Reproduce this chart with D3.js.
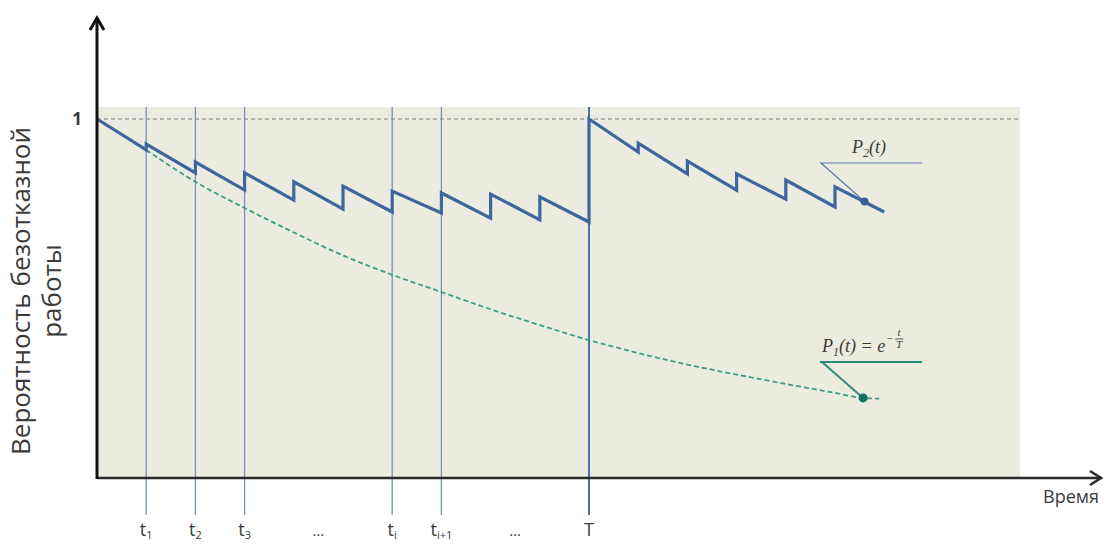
<!DOCTYPE html>
<html><head><meta charset="utf-8">
<script src="https://cdn.jsdelivr.net/npm/d3@7"></script>
<style>body{margin:0;background:#fff}svg{display:block}</style>
</head><body>
<svg id="c" width="1105" height="545"></svg>
<script>
// ---- data ----
const tickTimes = [1, 2, 3, 6, 7, 10];
const tickMain = ["t", "t", "t", "t", "t", "T"];
const tickSub = ["1", "2", "3", "i", "i+1", ""];
const ellipsisTimes = [4.5, 8.5];
const sawT = [0, 1, 1, 2, 2, 3, 3, 4, 4, 5, 5, 6, 6, 7, 7, 8, 8, 9, 9, 10, 10, 11, 11, 12, 12, 13, 13, 14, 14, 15, 15, 16];
const sawP = [1.0, 0.914, 0.930, 0.850, 0.880, 0.802, 0.850, 0.774, 0.825, 0.749, 0.813, 0.741, 0.799, 0.738, 0.794, 0.724, 0.791, 0.719, 0.783, 0.713, 1.0, 0.908, 0.933, 0.847, 0.883, 0.802, 0.847, 0.777, 0.830, 0.755, 0.811, 0.741];
const p1T = [1, 2, 3, 4, 5, 6, 7, 8, 9, 10, 11, 12, 13, 14, 15, 15.57, 15.9];
const p1P = [0.914, 0.825, 0.752, 0.684, 0.620, 0.566, 0.518, 0.470, 0.426, 0.384, 0.348, 0.316, 0.288, 0.262, 0.237, 0.223, 0.221];
const p2Marker = [15.6, 0.770];
const p1Marker = [15.57, 0.223];
const refLevel = 1;

// ---- layout ----
const svg = d3.select("#c");
const x = d3.scaleLinear().domain([0, 10]).range([97, 589]);
const y = d3.scaleLinear().domain([0, 1]).range([478, 119]);
const plotRight = 1020, plotTop = 107;

svg.append("rect").attr("x", x(0)).attr("y", plotTop)
  .attr("width", plotRight - x(0)).attr("height", y(0) - plotTop)
  .attr("fill", "#ecebe0");

svg.append("line").attr("x1", x(0)).attr("x2", plotRight)
  .attr("y1", y(refLevel)).attr("y2", y(refLevel))
  .attr("stroke", "#7a7a7a").attr("stroke-width", 1.2).attr("stroke-dasharray", "4,3");

svg.selectAll("line.vt").data(tickTimes).join("line").attr("class", "vt")
  .attr("x1", d => x(d)).attr("x2", d => x(d))
  .attr("y1", plotTop).attr("y2", 515)
  .attr("stroke", (d, i) => i === tickTimes.length - 1 ? "#4d70a8" : "#7891bf")
  .attr("stroke-width", (d, i) => i === tickTimes.length - 1 ? 2 : 1.3);

const p1Data = p1T.map((t, i) => [t, p1P[i]]);
svg.append("path").datum(p1Data)
  .attr("d", d3.line().x(d => x(d[0])).y(d => y(d[1])).curve(d3.curveMonotoneX))
  .attr("fill", "none").attr("stroke", "#3c9c8c").attr("stroke-width", 1.8)
  .attr("stroke-dasharray", "5,3");

const sawData = sawT.map((t, i) => [t, sawP[i]]);
svg.append("path").datum(sawData)
  .attr("d", d3.line().x(d => x(d[0])).y(d => y(d[1])))
  .attr("fill", "none").attr("stroke", "#3e659e").attr("stroke-width", 3.2)
  .attr("stroke-linejoin", "miter");

// axes
svg.append("line").attr("x1", x(0)).attr("x2", 1100).attr("y1", y(0)).attr("y2", y(0))
  .attr("stroke", "#2a2a2a").attr("stroke-width", 2.6);
svg.append("line").attr("x1", x(0)).attr("x2", x(0)).attr("y1", y(0) + 1).attr("y2", 18)
  .attr("stroke", "#111").attr("stroke-width", 3);
svg.append("path").attr("d", `M${x(0) - 7},30 L${x(0)},18 L${x(0) + 7},30`)
  .attr("fill", "none").attr("stroke", "#111").attr("stroke-width", 3);
svg.append("path").attr("d", `M1090,${y(0) - 7} L1101,${y(0)} L1090,${y(0) + 7}`)
  .attr("fill", "none").attr("stroke", "#2a2a2a").attr("stroke-width", 2.6);

svg.append("text").attr("x", x(0) - 15).attr("y", y(refLevel) + 6)
  .attr("text-anchor", "end").attr("font-family", "Open Sans, sans-serif")
  .attr("font-size", 17).attr("font-weight", "bold").attr("fill", "#3a3a3a").text("1");

svg.append("text").attr("x", 1099).attr("y", 503).attr("text-anchor", "end")
  .attr("font-family", "Open Sans, sans-serif").attr("font-size", 18).attr("fill", "#3a3a3a").text("Время");

const yt = svg.append("text").attr("transform", "translate(0,291) rotate(-90)")
  .attr("text-anchor", "middle").attr("font-family", "Open Sans, sans-serif")
  .attr("font-size", 26).attr("fill", "#3a3a3a");
yt.append("tspan").attr("x", 0).attr("y", 30).text("Вероятность безотказной");
yt.append("tspan").attr("x", 0).attr("y", 61).text("работы");

const tl = svg.selectAll("text.tl").data(tickTimes).join("text").attr("class", "tl")
  .attr("x", d => x(d)).attr("y", 536).attr("text-anchor", "middle")
  .attr("font-family", "Open Sans, sans-serif").attr("font-size", 18).attr("fill", "#3a3a3a");
tl.append("tspan").text((d, i) => tickMain[i]);
tl.append("tspan").attr("dy", 3).attr("font-size", 11).text((d, i) => tickSub[i]);
svg.selectAll("text.el").data(ellipsisTimes).join("text").attr("class", "el")
  .attr("x", d => x(d)).attr("y", 536).attr("text-anchor", "middle")
  .attr("font-family", "Open Sans, sans-serif").attr("font-size", 15).attr("fill", "#3a3a3a").text("…");

// P2 annotation
const m2x = x(p2Marker[0]), m2y = y(p2Marker[1]);
svg.append("path").attr("d", `M${m2x},${m2y} L821,163 L922,163`).attr("fill", "none")
  .attr("stroke", "#5a7aad").attr("stroke-width", 1.2);
svg.append("circle").attr("cx", m2x).attr("cy", m2y).attr("r", 4).attr("fill", "#3a5f96");
const t2 = svg.append("text").attr("x", 852).attr("y", 153)
  .attr("font-family", "Liberation Serif, serif").attr("font-style", "italic")
  .attr("font-size", 18).attr("fill", "#3a3a3a");
t2.append("tspan").text("P");
t2.append("tspan").attr("dy", 4).attr("font-size", 12).text("2");
t2.append("tspan").attr("dy", -4).text("(t)");

// P1 annotation
const m1x = x(p1Marker[0]), m1y = y(p1Marker[1]);
svg.append("path").attr("d", `M${m1x},${m1y} L822,362 M820,362 L922,362`).attr("fill", "none")
  .attr("stroke", "#2e8c7c").attr("stroke-width", 2);
svg.append("circle").attr("cx", m1x).attr("cy", m1y).attr("r", 4.5).attr("fill", "#136f5f");
const t1 = svg.append("text").attr("x", 822).attr("y", 352)
  .attr("font-family", "Liberation Serif, serif").attr("font-style", "italic")
  .attr("font-size", 18).attr("fill", "#3a3a3a");
t1.append("tspan").text("P");
t1.append("tspan").attr("dy", 4).attr("font-size", 12).text("1");
t1.append("tspan").attr("dy", -4).text("(t) = e");
const bb = t1.node().getBBox();
const ex0 = bb.x + bb.width + 1;
const ex = svg.append("g").attr("font-family", "Liberation Serif, serif")
  .attr("font-style", "italic").attr("fill", "#3a3a3a").attr("font-size", 11);
ex.append("text").attr("x", ex0).attr("y", 342).text("−");
ex.append("text").attr("x", ex0 + 13).attr("y", 336).attr("text-anchor", "middle").text("t");
ex.append("line").attr("x1", ex0 + 9).attr("x2", ex0 + 17).attr("y1", 339).attr("y2", 339)
  .attr("stroke", "#3a3a3a").attr("stroke-width", 0.8);
ex.append("text").attr("x", ex0 + 13).attr("y", 348).attr("text-anchor", "middle").text("T");
</script>
</body></html>
